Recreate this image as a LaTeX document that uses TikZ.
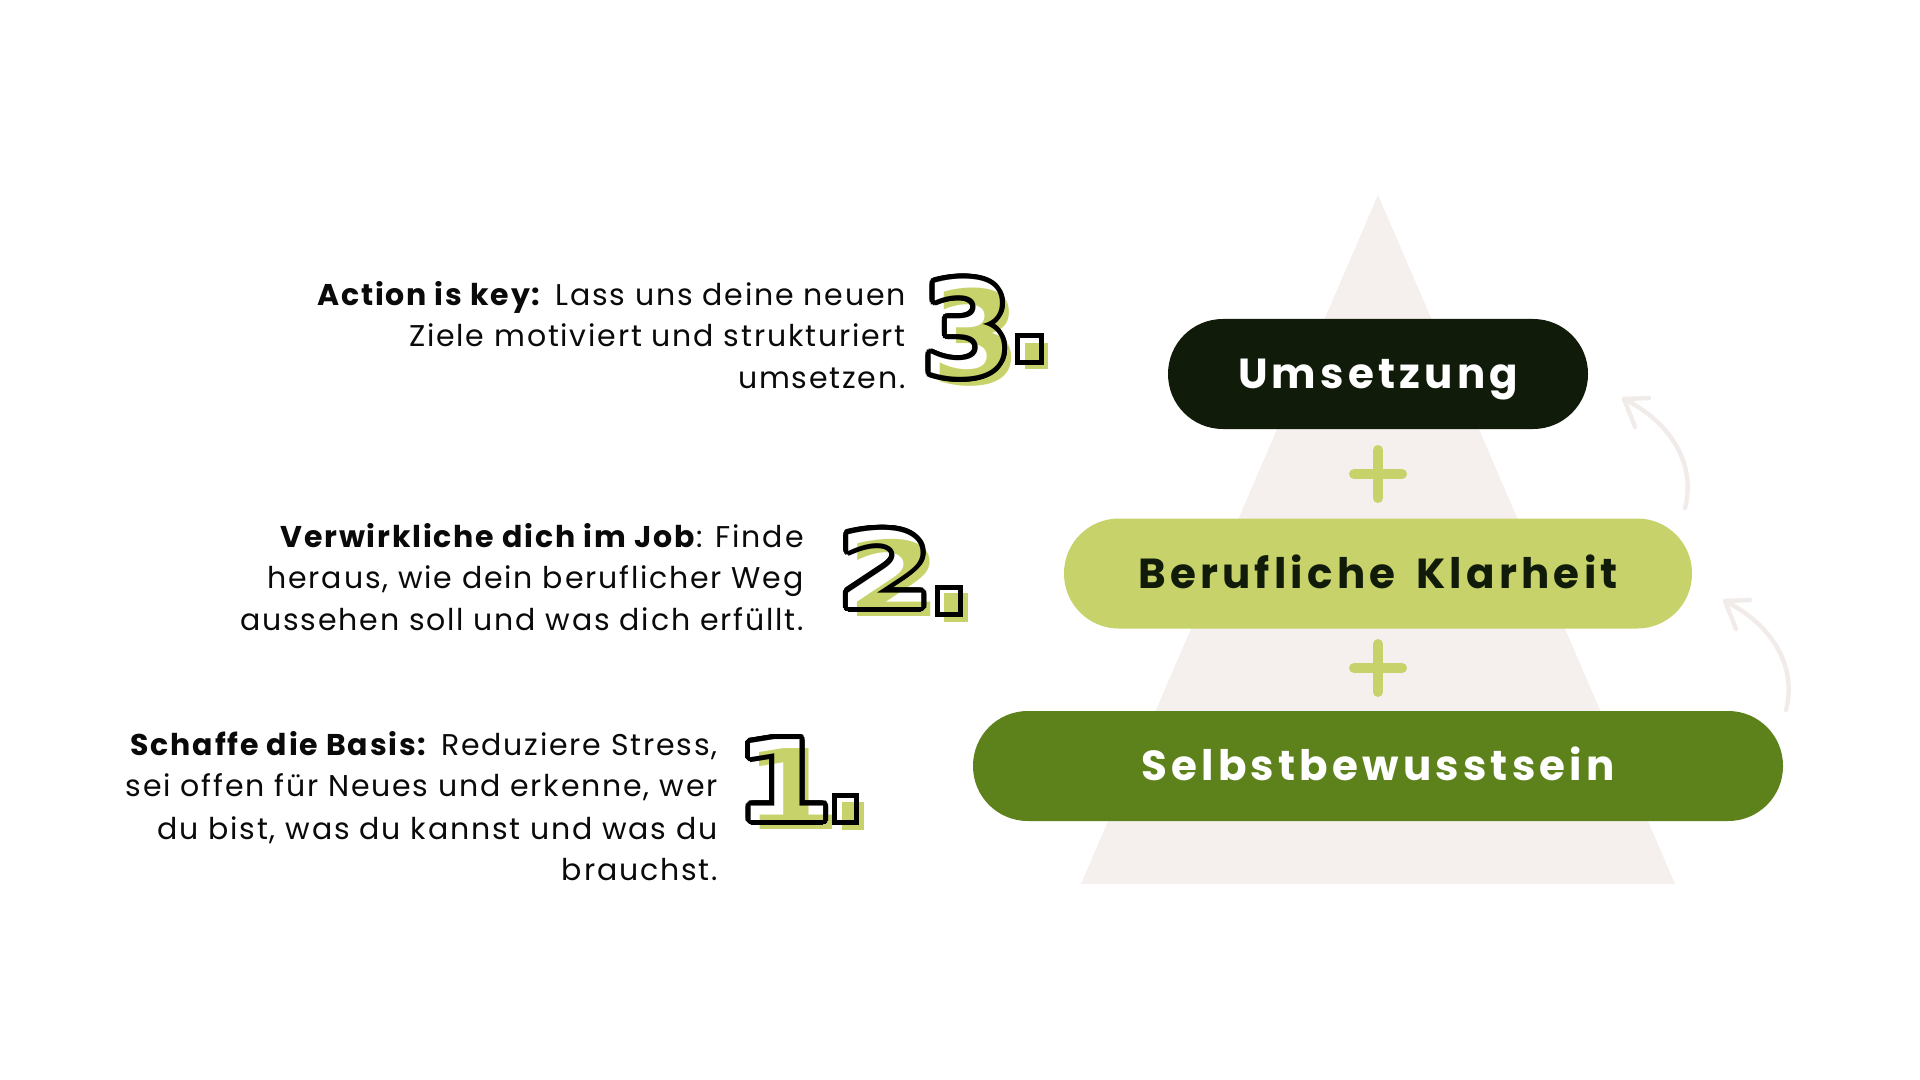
\documentclass[tikz,border=0pt]{standalone}
\usepackage{fontspec}
\setmainfont{Poppins}
\newfontfamily\bodyfont{Poppins}[LetterSpace=6]
\newfontfamily\numfont{DejaVu Sans}
\newfontfamily\labfont{Poppins}[LetterSpace=10]
\definecolor{limeg}{HTML}{C8D26A}
\definecolor{darkg}{HTML}{111B09}
\definecolor{oliveg}{HTML}{5E821B}
\definecolor{trig}{HTML}{F5F0ED}
\definecolor{arrg}{HTML}{F1ECE9}
\definecolor{ink}{HTML}{0A0A0A}
\begin{document}
\begin{tikzpicture}[x=0.5pt,y=-0.5pt,
  pill/.style={rectangle, rounded corners=27.4pt, minimum height=55pt, inner sep=0pt,
    text height=14.7pt, text depth=0pt,
    font=\labfont\bfseries\fontsize{21}{25}\selectfont},
  bodytext/.style={anchor=base east, inner sep=0pt, text=ink, font=\bodyfont\fontsize{15}{21}\selectfont},
  plusmark/.style={draw=limeg, line width=5pt, line cap=round},
  curl/.style={draw=arrg, line width=2.2pt, line cap=round, line join=round},
  digit/.style={anchor=base, inner sep=0pt},
  dotring/.style={draw=black, line width=2.5pt},
]
\useasboundingbox[fill=white] (0,0) rectangle (1920,1080);

% background triangle
\fill[trig] (1378,195) -- (1675,884) -- (1081,884) -- cycle;

% pills
\node[pill, fill=darkg, text=white, minimum width=210pt] (ums) at (1378,374) {Umsetzung};
\node[pill, fill=limeg, text=darkg, minimum width=314pt] (ber) at (1378,573.5) {Berufliche \hspace{4pt}Klarheit};
\node[pill, fill=oliveg, text=white, minimum width=405pt] (sel) at (1378,766) {Selbstbewusstsein};

% plus signs
\draw[plusmark] (1354,474) -- (1402,474) (1378,450) -- (1378,498);
\draw[plusmark] (1354,668) -- (1402,668) (1378,644) -- (1378,692);

% curved arrows
\coordinate (a1t) at (1685,508);
\coordinate (a1h) at (1624,399);
\coordinate (a1b) at (1649,398);
\coordinate (a1c) at (1635,427);
\draw[curl] (a1t) .. controls (1696,465) and (1672,423) .. (a1h);
\draw[curl] (a1b) -- (a1h) -- (a1c);
\coordinate (a2t) at (1786,710);
\coordinate (a2h) at (1725,601);
\coordinate (a2b) at (1750,600);
\coordinate (a2c) at (1736,629);
\draw[curl] (a2t) .. controls (1797,667) and (1773,625) .. (a2h);
\draw[curl] (a2b) -- (a2h) -- (a2c);

% text blocks
\node[bodytext] (t3a) at (906,306) {\textbf{Action is key:} Lass uns deine neuen};
\node[bodytext] (t3b) at (906,347) {Ziele motiviert und strukturiert};
\node[bodytext] (t3c) at (906,388) {umsetzen.};
\node[bodytext] (t2a) at (804,547) {\textbf{Verwirkliche dich im Job}: Finde};
\node[bodytext] (t2b) at (804,588) {heraus, wie dein beruflicher Weg};
\node[bodytext] (t2c) at (804,630) {aussehen soll und was dich erfüllt.};
\node[bodytext] (t1a) at (718,755) {\textbf{Schaffe die Basis:} Reduziere Stress,};
\node[bodytext] (t1b) at (718,796) {sei offen für Neues und erkenne, wer};
\node[bodytext] (t1c) at (718,839) {du bist, was du kannst und was du};
\node[bodytext] (t1d) at (718,880) {brauchst.};

% big numbers: outline (black copies + white), then green offset with multiply
\foreach \p/\s/\d/\xs/\n in {{967.5,375.5}/65/3/1.0/n3, {885.5,607}/52/2/1.33/n2, {784,820}/55.5/1/1.28/n1}{
  \foreach \a in {0,15,...,345}{
    \node[digit, text=black, shift={(\a:5)}, font=\numfont\bfseries\fontsize{\s}{\s}\selectfont] at (\p) {\scalebox{\xs}[1]{\d}};
  }
  \node[digit, text=white, font=\numfont\bfseries\fontsize{\s}{\s}\selectfont] (\n) at (\p) {\scalebox{\xs}[1]{\d}};
  \begin{scope}[blend mode=multiply]
    \node[digit, text=limeg, shift={(9,9)}, font=\numfont\bfseries\fontsize{\s}{\s}\selectfont] (\n g) at (\p) {\scalebox{\xs}[1]{\d}};
  \end{scope}
}

% dots
\fill[limeg] (1025,343) rectangle (1048,369);
\draw[dotring] (1017.5,335.5) rectangle (1041.5,362.5);
\fill[limeg] (944,593) rectangle (968,622);
\draw[dotring] (937.5,587.5) rectangle (960.5,614.5);
\fill[limeg] (842,802) rectangle (864,830);
\draw[dotring] (834.5,795.5) rectangle (856.5,822.5);
\end{tikzpicture}
\end{document}
